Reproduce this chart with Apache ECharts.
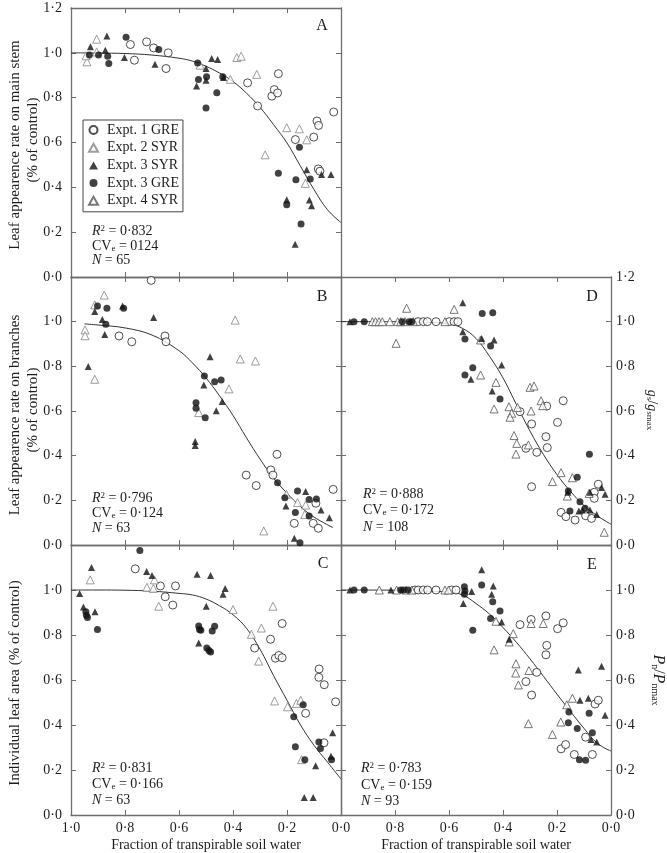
<!DOCTYPE html>
<html><head><meta charset="utf-8">
<script src="https://cdn.jsdelivr.net/npm/echarts@6/dist/echarts.min.js"></script>
<style>html,body{margin:0;padding:0;background:#fff}#c{width:667px;height:853px}</style>
</head><body><div id="c"></div>
<script>
// ---------- DATA (x = fraction of transpirable soil water, y = relative value) ----------
const legendNames = ['Expt. 1 GRE','Expt. 2 SYR','Expt. 3 SYR','Expt. 3 GRE','Expt. 4 SYR'];
const xTicks = [0,0.2,0.4,0.6,0.8,1.0];
const yTicks = [0,0.2,0.4,0.6,0.8,1.0,1.2];

// Panel A
const aGre1 = [[0.780,1.037],[0.765,0.967],[0.720,1.049],[0.694,1.022],[0.640,1.0],[0.648,0.930],[0.346,0.866],[0.309,0.763],[0.256,0.807],[0.247,0.836],[0.235,0.821],[0.232,0.907],[0.169,0.613],[0.101,0.624],[0.089,0.696],[0.083,0.676],[0.084,0.482],[0.078,0.472],[0.027,0.736]];
const aSyr2 = [[0.941,0.960],[0.944,0.987],[0.905,1.061],[0.905,1.004],[0.522,0.945],[0.410,0.882],[0.386,0.979],[0.370,0.985],[0.312,0.904],[0.281,0.545],[0.201,0.666],[0.154,0.661],[0.127,0.612],[0.132,0.418]];
const aSyr3 = [[0.928,1.027],[0.867,1.075],[0.873,1.012],[0.802,0.979],[0.689,0.949],[0.535,0.852],[0.5,0.878],[0.5,0.93],[0.479,0.975],[0.457,0.97],[0.435,0.89],[0.201,0.345],[0.170,0.146],[0.127,0.478],[0.117,0.343],[0.109,0.318],[0.072,0.457],[0.037,0.457]];
const aGre3 = [[0.932,0.990],[0.898,0.990],[0.864,0.985],[0.860,0.952],[0.796,1.069],[0.675,1.015],[0.531,0.955],[0.528,0.881],[0.498,0.893],[0.5,0.754],[0.460,0.822],[0.438,0.893],[0.232,0.463],[0.201,0.322],[0.167,0.434],[0.154,0.579],[0.148,0.236],[0.114,0.437]];
const aCurve = [[1,1],[0.9,0.999],[0.8,0.997],[0.7,0.99],[0.6,0.976],[0.55,0.963],[0.5,0.94],[0.45,0.91],[0.4,0.872],[0.35,0.82],[0.3,0.757],[0.25,0.68],[0.2,0.598],[0.15,0.494],[0.1,0.39],[0.05,0.3],[0,0.243]];

// Panel B
const bGre1 = [[0.703,1.185],[0.822,0.936],[0.775,0.910],[0.652,0.936],[0.648,0.910],[0.351,0.313],[0.314,0.266],[0.260,0.336],[0.252,0.313],[0.237,0.406],[0.173,0.097],[0.093,0.187],[0.103,0.097],[0.084,0.075],[0.029,0.249]];
const bSyr2 = [[0.948,0.963],[0.948,0.937],[0.912,1.075],[0.912,0.742],[0.877,1.119],[0.527,0.593],[0.415,0.699],[0.392,1.007],[0.373,0.833],[0.317,0.824],[0.286,0.063],[0.202,0.227],[0.161,0.190],[0.134,0.137],[0.131,0.179]];
const bSyr3 = [[0.936,0.799],[0.912,1.045],[0.884,1.010],[0.875,0.943],[0.809,1.070],[0.694,1.019],[0.540,0.463],[0.540,0.445],[0.508,0.716],[0.485,0.843],[0.462,0.601],[0.440,0.642],[0.204,0.175],[0.173,0.030],[0.131,0.239],[0.074,0.157],[0.043,0.122]];
const bGre3 = [[0.902,1.070],[0.867,1.060],[0.871,0.988],[0.805,1.060],[0.537,0.637],[0.537,0.612],[0.503,0.570],[0.506,0.757],[0.468,0.731],[0.444,0.739],[0.235,0.279],[0.208,0.212],[0.161,0.242],[0.169,0.146],[0.118,0.204],[0.118,0.130],[0.091,0.206],[0.152,0.010]];
const bCurve = [[0.95,0.99],[0.9,0.985],[0.8,0.972],[0.7,0.94],[0.6,0.87],[0.55,0.815],[0.5,0.748],[0.45,0.668],[0.4,0.58],[0.35,0.48],[0.3,0.385],[0.25,0.3],[0.2,0.232],[0.15,0.172],[0.1,0.125],[0.03,0.078]];

// Panel C
const cGre1 = [[0.762,1.094],[0.669,1.018],[0.651,0.970],[0.623,0.933],[0.613,1.018],[0.320,0.742],[0.261,0.781],[0.243,0.697],[0.230,0.709],[0.218,0.699],[0.218,0.851],[0.131,0.452],[0.081,0.649],[0.082,0.612],[0.062,0.579],[0.063,0.321],[0.020,0.503]];
const cSyr2 = [[0.929,1.045],[0.719,1.012],[0.695,1.007],[0.691,1.045],[0.675,0.928],[0.400,0.913],[0.332,0.803],[0.305,0.684],[0.295,0.831],[0.252,0.928],[0.246,0.507],[0.198,0.481],[0.165,0.496],[0.149,0.510],[0.146,0.246]];
const cSyr3 = [[0.968,0.985],[0.954,0.925],[0.924,1.100],[0.911,0.903],[0.720,1.082],[0.700,1.064],[0.533,1.070],[0.527,0.764],[0.499,0.928],[0.483,1.064],[0.437,0.981],[0.429,1.007],[0.103,0.078],[0.136,0.078],[0.094,0.219],[0.031,0.366],[0.037,0.261]];
const cGre3 = [[0.945,0.903],[0.943,0.888],[0.939,0.878],[0.902,0.824],[0.745,1.176],[0.527,0.840],[0.524,0.824],[0.519,0.821],[0.497,0.742],[0.489,0.731],[0.483,0.724],[0.477,0.818],[0.468,0.839],[0.175,0.437],[0.169,0.303],[0.140,0.490],[0.134,0.246],[0.082,0.325],[0.076,0.296],[0.035,0.246]];
const cCurve = [[1,1],[0.9,1],[0.8,0.999],[0.7,0.995],[0.6,0.985],[0.55,0.978],[0.5,0.96],[0.45,0.93],[0.4,0.89],[0.35,0.83],[0.3,0.737],[0.25,0.62],[0.2,0.51],[0.15,0.4],[0.1,0.31],[0.05,0.235],[0,0.16]];

// Panel D
const dGre1 = [[0.714,1.0],[0.695,1.0],[0.680,1.0],[0.648,1.0],[0.599,1.0],[0.581,1.0],[0.567,1.0],[0.337,0.597],[0.315,0.433],[0.294,0.542],[0.275,0.415],[0.294,0.261],[0.238,0.622],[0.241,0.485],[0.236,0.436],[0.177,0.646],[0.198,0.549],[0.185,0.146],[0.167,0.127],[0.133,0.112],[0.094,0.131],[0.072,0.119],[0.062,0.236],[0.062,0.209],[0.047,0.272]];
const dSyr4 = [[0.884,1.0],[0.872,1.0],[0.859,1.0],[0.847,1.0],[0.819,1.0],[0.796,0.903],[0.790,1.0],[0.779,1.0],[0.763,1.0],[0.757,1.06],[0.732,1.0],[0.615,1.0],[0.581,1.055],[0.483,0.761],[0.483,0.918],[0.426,0.728],[0.433,0.609],[0.378,0.619],[0.368,0.590],[0.374,0.572],[0.346,0.616],[0.359,0.490],[0.349,0.455],[0.352,0.407],[0.306,0.448],[0.300,0.706],[0.285,0.712],[0.296,0.600],[0.259,0.646],[0.253,0.624],[0.217,0.284],[0.185,0.324],[0.162,0.219],[0.143,0.301],[0.081,0.231],[0.025,0.057]];
const dSyr3 = [[0.967,1.0],[0.549,1.085],[0.549,0.955],[0.519,0.742],[0.479,0.925],[0.433,0.918],[0.405,0.806],[0.440,0.690],[0.160,0.236],[0.119,0.152],[0.106,0.157],[0.078,0.157],[0.078,0.236],[0.035,0.258],[0.022,0.227],[0.053,0.137]];
const dGre3 = [[0.952,1.0],[0.914,1.0],[0.773,1.0],[0.748,1.0],[0.738,1.0],[0.541,0.922],[0.541,0.761],[0.512,0.794],[0.477,1.037],[0.438,1.040],[0.446,0.891],[0.411,0.654],[0.158,0.242],[0.125,0.303],[0.152,0.152],[0.115,0.194],[0.096,0.164],[0.080,0.406]];
const dCurve = [[1,1],[0.8,1],[0.7,0.998],[0.6,0.99],[0.55,0.97],[0.5,0.925],[0.45,0.845],[0.4,0.748],[0.35,0.628],[0.3,0.51],[0.25,0.405],[0.2,0.315],[0.15,0.24],[0.1,0.177],[0.05,0.13],[0,0.093]];

// Panel E
const eGre1 = [[0.726,1.0],[0.714,1.0],[0.695,1.0],[0.679,1.0],[0.648,1.0],[0.590,1.0],[0.574,1.0],[0.337,0.846],[0.315,0.593],[0.294,0.533],[0.296,0.869],[0.275,0.634],[0.241,0.885],[0.238,0.754],[0.241,0.712],[0.198,0.828],[0.177,0.854],[0.185,0.294],[0.168,0.313],[0.136,0.269],[0.094,0.346],[0.069,0.269],[0.059,0.493],[0.047,0.510]];
const eSyr4 = [[0.858,1.0],[0.794,1.0],[0.759,1.0],[0.738,1.0],[0.615,1.0],[0.602,1.0],[0.426,0.861],[0.433,0.734],[0.377,0.769],[0.362,0.806],[0.352,0.672],[0.353,0.631],[0.343,0.578],[0.304,0.642],[0.306,0.406],[0.296,0.851],[0.251,0.851],[0.217,0.358],[0.186,0.413],[0.164,0.490],[0.143,0.519]];
const eSyr3 = [[0.967,1.0],[0.815,1.0],[0.516,0.993],[0.547,0.940],[0.479,1.090],[0.442,0.981],[0.436,1.018],[0.405,0.858],[0.377,0.781],[0.121,0.645],[0.115,0.510],[0.084,0.519],[0.074,0.336],[0.053,0.324],[0.035,0.661],[0.022,0.443]];
const eGre3 = [[0.952,1.0],[0.914,1.0],[0.779,1.0],[0.769,1.0],[0.751,1.0],[0.543,1.015],[0.541,0.996],[0.543,0.981],[0.512,0.821],[0.479,1.022],[0.438,0.948],[0.411,0.907],[0.446,0.873],[0.156,0.458],[0.158,0.410],[0.125,0.385],[0.117,0.246],[0.094,0.243],[0.081,0.452],[0.069,0.366]];
const eCurve = [[1,1],[0.8,0.999],[0.7,0.996],[0.6,0.99],[0.55,0.978],[0.5,0.94],[0.45,0.893],[0.4,0.833],[0.35,0.767],[0.3,0.694],[0.25,0.616],[0.2,0.537],[0.15,0.46],[0.1,0.385],[0.05,0.318],[0,0.284]];

// ---------- STYLE / LAYOUT ----------
const FONT = "'Liberation Serif','Times New Roman','DejaVu Serif',serif";
const TXT = '#1c1c1c';
const LINE = '#6e6e6e';
const fmt = v => (Math.round(v*10)/10).toFixed(1).replace('.', '\u00B7');

const grids = [
  {left:71, top:8,   width:270, height:269},  // A
  {left:71, top:277, width:270, height:268},  // B
  {left:71, top:545, width:270, height:270},  // C
  {left:341, top:277, width:270, height:268}, // D
  {left:341, top:545, width:270, height:270}  // E
];

function xAx(g, pos, show, hideOne) {
  return {type:'value', gridIndex:g, position:pos, min:0, max:1, interval:0.2, inverse:true,
    axisLine:{show:true, onZero:false, lineStyle:{color:LINE, width:1.3}},
    axisTick:{show:true, inside:true, length:5, lineStyle:{color:LINE, width:1}},
    splitLine:{show:false},
    axisLabel:{show:show, margin:6, fontFamily:FONT, fontSize:14, color:TXT,
      formatter: v => (hideOne && Math.abs(v-1)<1e-6) ? '' : fmt(v)}};
}
function yAx(g, pos, show, hideTop, margin) {
  return {type:'value', gridIndex:g, position:pos, min:0, max:1.2, interval:0.2,
    axisLine:{show:true, onZero:false, lineStyle:{color:LINE, width:1.3}},
    axisTick:{show:true, inside:true, length:5, lineStyle:{color:LINE, width:1}},
    splitLine:{show:false},
    axisLabel:{show:show, margin:margin, fontFamily:FONT, fontSize:14, color:TXT,
      formatter: v => (hideTop && Math.abs(v-1.2)<1e-6) ? '' : fmt(v)}};
}

const xAxes = [
  xAx(0,'bottom',false), xAx(0,'top',false),
  xAx(1,'bottom',false), xAx(1,'top',false),
  xAx(2,'bottom',true,false), xAx(2,'top',false),
  xAx(3,'bottom',false), xAx(3,'top',false),
  xAx(4,'bottom',true,true), xAx(4,'top',false)
];
const yAxes = [
  yAx(0,'left',true,false,9), yAx(0,'right',false),
  yAx(1,'left',true,true,9), yAx(1,'right',false),
  yAx(2,'left',true,true,9), yAx(2,'right',false),
  yAx(3,'left',false), yAx(3,'right',true,false,5),
  yAx(4,'left',false), yAx(4,'right',true,true,5)
];

const styles = {
  'Expt. 1 GRE': {symbol:'circle', symbolSize:8, itemStyle:{color:'#fff', borderColor:'#222', borderWidth:1}},
  'Expt. 2 SYR': {symbol:'triangle', symbolSize:8, itemStyle:{color:'#fff', borderColor:'#858585', borderWidth:1}},
  'Expt. 3 SYR': {symbol:'triangle', symbolSize:7, itemStyle:{color:'#111'}},
  'Expt. 3 GRE': {symbol:'circle', symbolSize:7, itemStyle:{color:'#111'}},
  'Expt. 4 SYR': {symbol:'triangle', symbolSize:8, itemStyle:{color:'#fff', borderColor:'#555', borderWidth:1}}
};
function sc(name, p, data) {
  return Object.assign({type:'scatter', name:name, xAxisIndex:2*p, yAxisIndex:2*p, data:data, z:3, clip:false}, styles[name]);
}
function curve(p, data) {
  return {type:'line', xAxisIndex:2*p, yAxisIndex:2*p, data:data, smooth:0.4, showSymbol:false, symbol:'none',
    lineStyle:{color:'#333', width:1}, z:2, silent:true};
}

const series = [
  curve(0,aCurve), sc('Expt. 1 GRE',0,aGre1), sc('Expt. 2 SYR',0,aSyr2), sc('Expt. 3 SYR',0,aSyr3), sc('Expt. 3 GRE',0,aGre3),
  curve(1,bCurve), sc('Expt. 1 GRE',1,bGre1), sc('Expt. 2 SYR',1,bSyr2), sc('Expt. 3 SYR',1,bSyr3), sc('Expt. 3 GRE',1,bGre3),
  curve(2,cCurve), sc('Expt. 1 GRE',2,cGre1), sc('Expt. 2 SYR',2,cSyr2), sc('Expt. 3 SYR',2,cSyr3), sc('Expt. 3 GRE',2,cGre3),
  curve(3,dCurve), sc('Expt. 1 GRE',3,dGre1), sc('Expt. 4 SYR',3,dSyr4), sc('Expt. 3 SYR',3,dSyr3), sc('Expt. 3 GRE',3,dGre3),
  curve(4,eCurve), sc('Expt. 1 GRE',4,eGre1), sc('Expt. 4 SYR',4,eSyr4), sc('Expt. 3 SYR',4,eSyr3), sc('Expt. 3 GRE',4,eGre3)
];

// ---------- TEXT ----------
const RICH = {
  i:{fontStyle:'italic', fontFamily:FONT, fontSize:14, fill:TXT},
  sup:{fontFamily:FONT, fontSize:9, verticalAlign:'top', fill:TXT},
  sub:{fontFamily:FONT, fontSize:9, verticalAlign:'bottom', fill:TXT},
  ib:{fontStyle:'italic', fontFamily:FONT, fontSize:16, fill:TXT},
  sb:{fontFamily:FONT, fontSize:10, verticalAlign:'bottom', fill:TXT}
};
function txt(x, y, text, o) {
  o = o || {};
  return {type:'text', x:x, y:y, rotation:o.rot||0, silent:true, z:10,
    style:{text:text, fill:TXT, fontFamily:FONT, fontSize:o.size||14, fontStyle:o.italic?'italic':'normal',
      align:o.align||'left', textAlign:o.align||'left', verticalAlign:'middle', textVerticalAlign:'middle', rich:RICH}};
}
const R90 = Math.PI/2;
const statsA = ['{i|R}{sup|2} = 0\u00B7832', 'CV{sub|e} = 0124', '{i|N} = 65'];
const statsB = ['{i|R}{sup|2} = 0\u00B7796', 'CV{sub|e} = 0\u00B7124', '{i|N} = 63'];
const statsC = ['{i|R}{sup|2} = 0\u00B7831', 'CV{sub|e} = 0\u00B7166', '{i|N} = 63'];
const statsD = ['{i|R}{sup|2} = 0\u00B7888', 'CV{sub|e} = 0\u00B7172', '{i|N} = 108'];
const statsE = ['{i|R}{sup|2} = 0\u00B7783', 'CV{sub|e} = 0\u00B7159', '{i|N} = 93'];
function statBlock(x, ys, lines) { return lines.map((t,k) => txt(x, ys[k], t)); }

const graphics = [].concat(
  statBlock(92, [231, 246, 260], statsA),
  statBlock(92, [498, 513, 528], statsB),
  statBlock(92, [768, 784, 800], statsC),
  statBlock(363, [494, 510, 527], statsD),
  statBlock(361, [768, 785, 801], statsE),
  [
    txt(322, 26, 'A', {size:16, align:'center'}),
    txt(322, 297, 'B', {size:16, align:'center'}),
    txt(323, 564, 'C', {size:16, align:'center'}),
    txt(592, 297, 'D', {size:16, align:'center'}),
    txt(592, 565, 'E', {size:16, align:'center'}),
    txt(15, 145, 'Leaf appearence rate on main stem', {size:15, align:'center', rot:R90}),
    txt(33, 140, '(% of control)', {size:15, align:'center', rot:R90}),
    txt(15, 415, 'Leaf appearence rate on branches', {size:15, align:'center', rot:R90}),
    txt(33, 410, '(% of control)', {size:15, align:'center', rot:R90}),
    txt(15, 683, 'Individual leaf area (% of control)', {size:15, align:'center', rot:R90}),
    txt(206, 845, 'Fraction of transpirable soil water', {size:14, align:'center'}),
    txt(476, 845, 'Fraction of transpirable soil water', {size:14, align:'center'}),
    txt(652, 410, '{i|g}{sub|s}/{i|g}{sub|smax}', {size:14, align:'center', rot:-R90}),
    txt(658, 680, '{ib|P}{sb|n}/{ib|P}{sb|nmax}', {size:16, align:'center', rot:-R90})
  ]
);

const chart = echarts.init(document.getElementById('c'), null, {renderer:'canvas'});
chart.setOption({
  animation:false,
  backgroundColor:'#fff',
  grid: grids,
  xAxis: xAxes,
  yAxis: yAxes,
  legend: {data: legendNames, left:83, top:120, orient:'vertical', itemWidth:9, itemHeight:8, itemGap:3.7,
    padding:[3,4,4,5], borderColor:'#444', borderWidth:1, selectedMode:false,
    textStyle:{fontFamily:FONT, fontSize:14, color:TXT, padding:[0,0,0,4]}},
  series: series,
  graphic: graphics
});
</script>
</body></html>
